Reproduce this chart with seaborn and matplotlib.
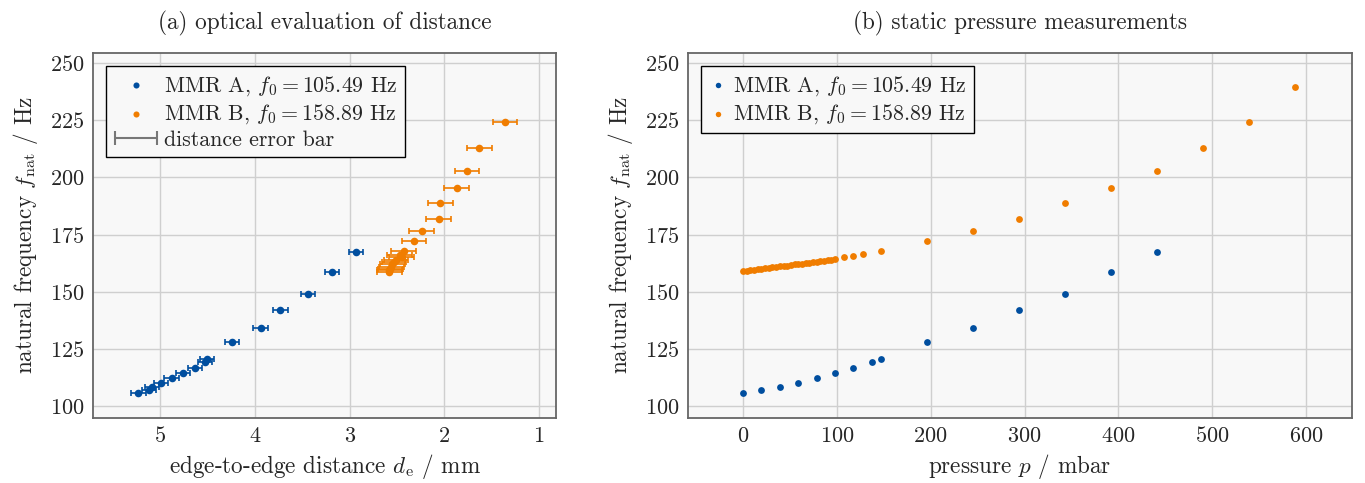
import numpy as np
import pandas as pd
import seaborn as sns
import matplotlib.pyplot as plt
from matplotlib.legend_handler import HandlerErrorbar
from matplotlib.container import ErrorbarContainer

# (a) optical evaluation: distance in mm, natural frequency in Hz
dist_a = [5.23, 5.12, 5.09, 4.99, 4.88, 4.76, 4.63, 4.53, 4.51, 4.24, 3.94, 3.73, 3.44, 3.19, 2.93]
freq_a_opt = [105.49, 106.8, 108.4, 110.2, 112.2, 114.3, 116.6, 119.1, 120.5, 127.8, 134.2, 142.2, 148.9, 158.4, 167.5]
dist_b = [1.36, 1.63, 1.76, 1.87, 2.04, 2.06, 2.24, 2.32, 2.43, 2.47, 2.45, 2.51, 2.53, 2.55, 2.56, 2.57, 2.58, 2.58]
freq_b_opt = [224.2, 212.7, 203.0, 195.4, 188.6, 182.0, 176.6, 172.0, 167.7, 166.0, 165.0, 163.8, 162.8, 162.0, 161.0, 160.1, 159.3, 158.5]
dist_err_a = 0.075
dist_err_b = 0.13

# (b) static pressure: pressure in mbar
press_a = [0, 19.6, 39.2, 58.8, 78.4, 98, 117.6, 137.2, 147, 196, 245, 294, 343, 392, 441]
freq_a = [105.49, 106.8, 108.4, 110.2, 112.2, 114.3, 116.6, 119.1, 120.5, 127.8, 134.2, 142.2, 148.9, 158.4, 167.5]
press_b = [0, 3.92, 7.84, 11.76, 15.68, 19.6, 23.52, 27.44, 31.36, 35.28, 39.2, 43.12, 47.04, 50.96,
           54.88, 58.8, 62.72, 66.64, 70.56, 74.48, 78.4, 82.32, 86.24, 90.16, 94.08, 98,
           107.8, 117.6, 127.4, 147, 196, 245, 294, 343, 392, 441, 490, 539, 588]
freq_b = [158.89, 159.1, 159.3, 159.55, 159.75, 159.95, 160.2, 160.4, 160.6, 160.8, 161.05, 161.25, 161.45, 161.7,
          161.9, 162.1, 162.3, 162.55, 162.75, 162.95, 163.2, 163.4, 163.6, 163.85, 164.05, 164.3,
          165.0, 165.7, 166.5, 167.7, 172.0, 176.6, 182.0, 188.6, 195.4, 203.0, 212.7, 224.2, 239.6]

label_a = r'MMR A, $f_0 = 105.49$ Hz'
label_b = r'MMR B, $f_0 = 158.89$ Hz'
blue = '#004e9f'
orange = '#f07d00'

sns.set_theme(style='whitegrid')
plt.rcParams.update({
    'font.family': 'serif',
    'font.serif': ['cmr10'],
    'mathtext.fontset': 'cm',
    'axes.formatter.use_mathtext': True,
    'font.size': 16,
    'axes.titlesize': 16.7,
    'axes.labelsize': 16.7,
    'axes.facecolor': '#f8f8f8',
    'axes.edgecolor': '#666666',
    'axes.linewidth': 1.3,
    'grid.color': '#cfcfcf',
    'grid.linewidth': 1.0,
    'axes.unicode_minus': False,
})

fig = plt.figure(figsize=(13.65, 4.83), dpi=100)
ax1 = fig.add_axes([93 / 1365, 1 - 418 / 483, 463 / 1365, 365 / 483])
ax2 = fig.add_axes([688 / 1365, 1 - 418 / 483, 664 / 1365, 365 / 483])

# left panel
ax1.errorbar(dist_a, freq_a_opt, xerr=dist_err_a, fmt='none', ecolor=blue, elinewidth=1.2, capsize=2.5, capthick=1.2)
ax1.errorbar(dist_b, freq_b_opt, xerr=dist_err_b, fmt='none', ecolor=orange, elinewidth=1.2, capsize=2.5, capthick=1.2)
sns.scatterplot(x=dist_a, y=freq_a_opt, color=blue, s=30, linewidth=0, ax=ax1, label=label_a, zorder=3)
sns.scatterplot(x=dist_b, y=freq_b_opt, color=orange, s=30, linewidth=0, ax=ax1, label=label_b, zorder=3)
ax1.errorbar([np.nan], [np.nan], xerr=[[0.1]], fmt='none', ecolor='#777777', elinewidth=1.5, capsize=5, capthick=1.5,
             label='distance error bar')
ax1.set_xlim(5.71, 0.82)
ax1.set_xticks([5, 4, 3, 2, 1])
ax1.set_xlabel(r'edge-to-edge distance $d_{\mathrm{e}}$ / mm')
ax1.set_title('(a) optical evaluation of distance', pad=17)

# right panel
df_a = pd.DataFrame({'p': press_a, 'f': freq_a})
df_b = pd.DataFrame({'p': press_b, 'f': freq_b})
sns.scatterplot(data=df_a, x='p', y='f', color=blue, s=24, linewidth=0, ax=ax2, label=label_a, zorder=3)
sns.scatterplot(data=df_b, x='p', y='f', color=orange, s=24, linewidth=0, ax=ax2, label=label_b, zorder=3)
ax2.set_xlim(-58.7, 649)
ax2.set_xticks([0, 100, 200, 300, 400, 500, 600])
ax2.set_xlabel(r'pressure $p$ / mbar')
ax2.set_title('(b) static pressure measurements', pad=17)

for ax, hl in ((ax1, 2.0), (ax2, 0.8)):
    ax.set_ylim(94.75, 254.4)
    ax.set_yticks([100, 125, 150, 175, 200, 225, 250])
    ax.set_ylabel(r'natural frequency $f_{\mathrm{nat}}$ / Hz', labelpad=7)
    ax.tick_params(direction='in', length=4, color='#888888', labelsize=16, pad=6)
    ax.grid(True)
    for sp in ax.spines.values():
        sp.set_color('#666666')
    leg = ax.legend(loc='upper left', fancybox=False, framealpha=1, edgecolor='black',
                    fontsize=15.8, handlelength=hl, handletextpad=0.3, borderpad=0.35,
                    labelspacing=0.2, borderaxespad=0.6, markerscale=0.8,
                    handler_map={ErrorbarContainer: HandlerErrorbar(xerr_size=0.95)})
    leg.get_frame().set_linewidth(1.0)

fig.savefig('out.png', dpi=100)
